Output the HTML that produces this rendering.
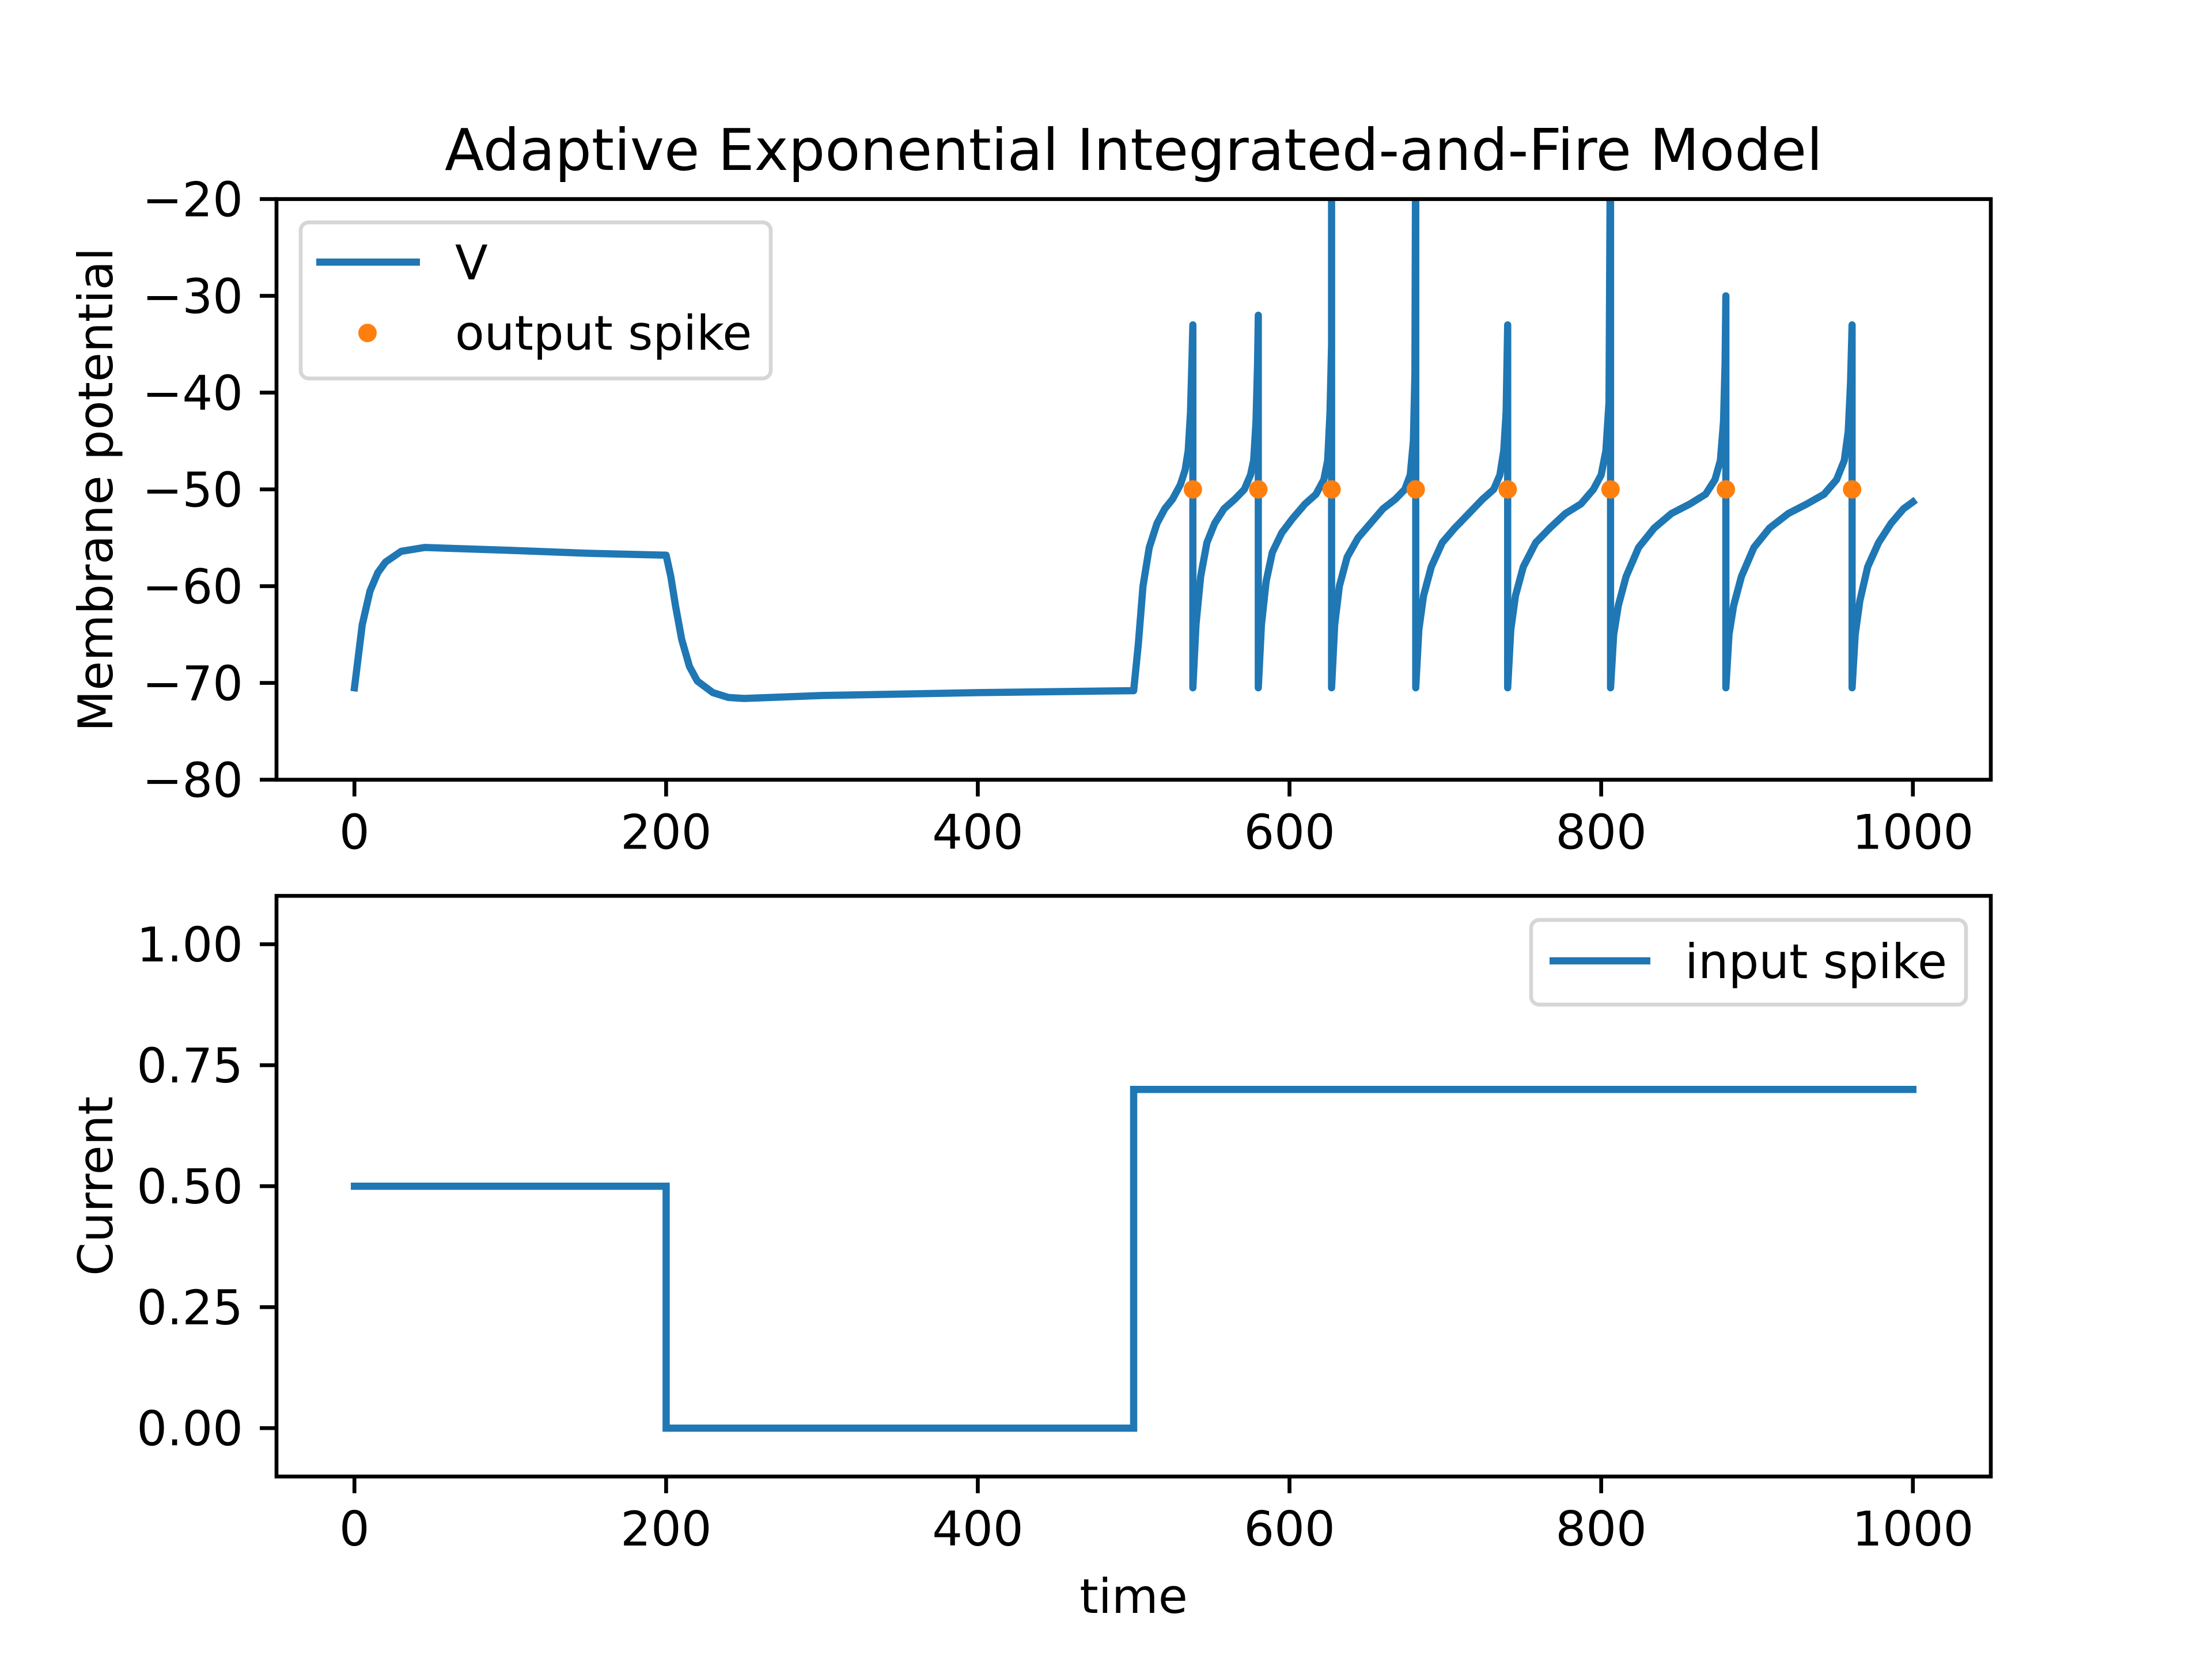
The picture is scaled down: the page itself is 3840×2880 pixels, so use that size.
<!DOCTYPE html>
<html><head><meta charset="utf-8">
<style>
html,body{margin:0;padding:0;background:#fff;}
svg{display:block;font-family:"DejaVu Sans","Liberation Sans",sans-serif;}
</style></head>
<body>
<svg id="fig" width="3840" height="2880" viewBox="0 0 3840 2880" xmlns="http://www.w3.org/2000/svg">
<defs>
<clipPath id="clipTop"><rect x="480" y="345.6" width="2976" height="1008"/></clipPath>
<clipPath id="clipBot"><rect x="480" y="1555.2" width="2976" height="1008"/></clipPath>
</defs>
<rect x="0" y="0" width="3840" height="2880" fill="#fff"/>
<text x="1968" y="295" font-size="100" text-anchor="middle">Adaptive Exponential Integrated-and-Fire Model</text>
<g id="top"></g>
<g id="bot"></g>
<text x="0" y="0" font-size="83" text-anchor="middle" transform="translate(195,850) rotate(-90)">Membrane potential</text>
<text x="0" y="0" font-size="83" text-anchor="middle" transform="translate(195,2059) rotate(-90)">Current</text>
<text x="1968" y="2800" font-size="83" text-anchor="middle">time</text>
</svg>
<script>
// ---- data ----
const vTimes = [0,5,10,15,20,30,45,100,150,200,203,206,210,215,220,230,240,250,300,400,500,
503,506,510,515,520,525,530,533,535,536.5,537.5,538,538,
540,543,547,552,558,565,571,575,577,578.5,579.5,580,580,
582,585,589,595,602,610,617,622,624.5,626,627,627,627,
629,632,637,644,652,660,668,674,677.5,679.5,680.5,681,681,
683,686,691,698,706,715,724,731,735,737.5,739,740,740,
742,745,750,758,767,777,787,795,800,803,805,806,806,
808,811,816,824,834,845,857,867,873,876.5,878.5,879.5,880,880,
882,885,890,898,908,920,932,943,951,956,958.5,960,961,961,
963,966,971,978,986,994,1000];
const vValues = [-70.5,-64,-60.5,-58.6,-57.5,-56.4,-56,-56.3,-56.6,-56.8,-59,-62,-65.5,-68.3,-69.8,-71,-71.5,-71.6,-71.3,-71,-70.8,
-66,-60,-56,-53.5,-52,-51,-49.5,-48,-46,-42,-36,-33,-70.5,
-64,-59,-55.5,-53.5,-52,-51,-50,-48.5,-47,-43,-37,-32,-70.5,
-64,-59.5,-56.5,-54.5,-53,-51.5,-50.5,-49,-47,-42,-35,-10,-70.5,
-64,-60,-57,-55,-53.5,-52,-51,-50,-48.5,-45,-38,-10,-70.5,
-64.5,-61,-58,-55.5,-54,-52.5,-51,-50,-48.5,-46,-42,-33,-70.5,
-64.5,-61,-58,-55.5,-54,-52.5,-51.5,-50,-48.5,-46,-41,-10,-70.5,
-65,-62,-59,-56,-54,-52.5,-51.5,-50.5,-49,-47,-43,-37,-30,-70.5,
-65,-62,-59,-56,-54,-52.5,-51.5,-50.5,-49,-47,-44,-39,-33,-70.5,
-65,-61.5,-58,-55.5,-53.5,-52,-51.3];
const spikeTimes = [538,580,627,681,740,806,880,961];
const spikeValues = [-50,-50,-50,-50,-50,-50,-50,-50];
const iTimes = [0,200,200,500,500,1000];
const iValues = [0.5,0.5,0,0,0.7,0.7];
const xTicks = [0,200,400,600,800,1000];
const vTicks = [-80,-70,-60,-50,-40,-30,-20];
const iTicks = [0,0.25,0.5,0.75,1.0];
const iTickLabels = ["0.00","0.25","0.50","0.75","1.00"];

const NS="http://www.w3.org/2000/svg";
const L=480,R=3456;
const xs=t=>L+(t+50)/1100*(R-L);
function mk(tag,attrs,parent){const e=document.createElementNS(NS,tag);for(const k in attrs)e.setAttribute(k,attrs[k]);parent.appendChild(e);return e;}
function fmt(v){return v<0?"\u2212"+Math.abs(v):String(v);}

function panel(g,top,bot,ymin,ymax,yt,ytl){
  const ys=v=>bot-(v-ymin)/(ymax-ymin)*(bot-top);
  xTicks.forEach(t=>{
    const ln=mk('line',{x1:xs(t),x2:xs(t),y1:bot,y2:bot+29,stroke:'#000','stroke-width':6.67},g);
    
    
    const tx=mk('text',{x:xs(t),y:bot+120,'font-size':83,'text-anchor':'middle'},g);
    tx.textContent=String(t);
    
    
  });
  yt.forEach((v,i)=>{
    const ln=mk('line',{x1:L-29,x2:L,y1:ys(v),y2:ys(v),stroke:'#000','stroke-width':6.67},g);
    
    
    const tx=mk('text',{x:L-58,y:ys(v)+30,'font-size':83,'text-anchor':'end'},g);
    tx.textContent=ytl[i];
    
    
  });
  return ys;
}

// top panel
const gT=document.getElementById('top');
const ysT=panel(gT,345.6,1353.6,-80,-20,vTicks,vTicks.map(fmt));
const vPath=mk('path',{d:vTimes.map((t,i)=>(i?'L':'M')+xs(t).toFixed(1)+' '+ysT(vValues[i]).toFixed(1)).join(''),fill:'none',stroke:'#1f77b4','stroke-width':12.5,'stroke-linejoin':'round','stroke-linecap':'square','clip-path':'url(#clipTop)'},gT);


spikeTimes.forEach((t,i)=>{
  const c=mk('circle',{cx:xs(t),cy:ysT(spikeValues[i]),r:16,fill:'#ff7f0e'},gT);
  
  
});
const fT=mk('rect',{x:480,y:345.6,width:2976,height:1008,fill:'none',stroke:'#000','stroke-width':6.67},gT);



// bottom panel
const gB=document.getElementById('bot');
const ysB=panel(gB,1555.2,2563.2,-0.1,1.1,iTicks,iTickLabels);
const iPath=mk('path',{d:iTimes.map((t,i)=>(i?'L':'M')+xs(t).toFixed(1)+' '+ysB(iValues[i]).toFixed(1)).join(''),fill:'none',stroke:'#1f77b4','stroke-width':12.5,'stroke-linecap':'square','clip-path':'url(#clipBot)'},gB);


const fB=mk('rect',{x:480,y:1555.2,width:2976,height:1008,fill:'none',stroke:'#000','stroke-width':6.67},gB);



// legends
const lg1=mk('g',{},gT);


mk('rect',{x:522,y:386,width:816,height:271,rx:14,fill:'#fff','fill-opacity':0.8,stroke:'#d6d6d6','stroke-width':6.67},lg1);
mk('line',{x1:549,x2:729,y1:455,y2:455,stroke:'#1f77b4','stroke-width':12.5},lg1);
const t1=mk('text',{x:790,y:485,'font-size':83},lg1);t1.textContent='V';


mk('circle',{cx:638,cy:578,r:16,fill:'#ff7f0e'},lg1);
const t2=mk('text',{x:790,y:607,'font-size':83},lg1);t2.textContent='output spike';



const lg2=mk('g',{},gB);


mk('rect',{x:2658,y:1597,width:755,height:147,rx:14,fill:'#fff','fill-opacity':0.8,stroke:'#d6d6d6','stroke-width':6.67},lg2);
mk('line',{x1:2690,x2:2865,y1:1668,y2:1668,stroke:'#1f77b4','stroke-width':12.5},lg2);
const t3=mk('text',{x:2925,y:1698,'font-size':83},lg2);t3.textContent='input spike';


</script>
</body></html>
